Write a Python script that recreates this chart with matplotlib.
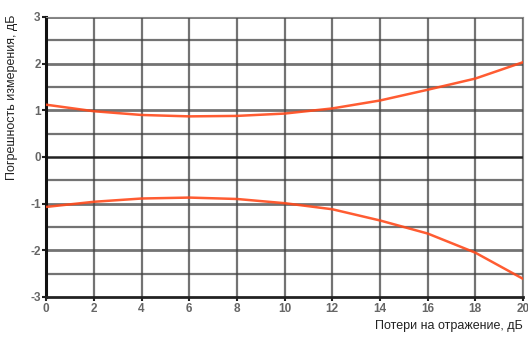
import matplotlib.pyplot as plt
import numpy as np

loss_db = [0, 2, 4, 6, 8, 10, 12, 14, 16, 18, 20]
upper_err = [1.12, 0.98, 0.90, 0.87, 0.88, 0.93, 1.04, 1.21, 1.44, 1.68, 2.03]
lower_err = [-1.07, -0.96, -0.89, -0.87, -0.90, -0.99, -1.12, -1.36, -1.64, -2.05, -2.61]
x_ticks = [0, 2, 4, 6, 8, 10, 12, 14, 16, 18, 20]
y_ticks = [-3, -2, -1, 0, 1, 2, 3]

plt.rcParams['font.family'] = ['Liberation Sans Narrow', 'Liberation Sans', 'DejaVu Sans']
plt.rcParams['axes.unicode_minus'] = False

fig = plt.figure(figsize=(5.28, 3.37), dpi=100)
ax = fig.add_axes([0.0875, 0.1187, 0.903, 0.831])

# сетка: вертикальные через 2, горизонтальные через 0.5
for xv in x_ticks[1:]:
    ax.axvline(xv, color='#444444', lw=1.6, alpha=0.75, zorder=1)
for yv in np.arange(-2.5, 3.01, 0.5):
    if yv == 0:
        ax.axhline(yv, color='#222222', lw=1.8, zorder=1)
    else:
        ax.axhline(yv, color='#444444', lw=1.6 if yv % 1 else 2.0, alpha=0.75, zorder=1)

ax.plot(loss_db, upper_err, color='#ff4a1c', lw=1.8, alpha=0.9, zorder=3)
ax.plot(loss_db, lower_err, color='#ff4a1c', lw=1.8, alpha=0.9, zorder=3)

ax.set_xlim(0, 20)
ax.set_ylim(-3, 3)
ax.set_xticks(x_ticks)
ax.set_yticks(y_ticks)
ax.tick_params(length=3, width=1.5, color='#222222', labelsize=8.5,
               labelcolor='#666666', pad=1)
for lab in ax.get_xticklabels() + ax.get_yticklabels():
    lab.set_fontweight('bold')

ax.spines['left'].set_linewidth(2.2)
ax.spines['left'].set_color('#111111')
ax.spines['bottom'].set_linewidth(2.0)
ax.spines['bottom'].set_color('#222222')
ax.spines['top'].set_color('#888888')
ax.spines['right'].set_color('#888888')

fig.text(0.99, 0.032, 'Потери на отражение, дБ', ha='right', va='center',
         fontsize=9, color='#222222')
fig.text(0.022, 0.71, 'Погрешность измерения, дБ', rotation=90,
         ha='center', va='center', fontsize=9, color='#222222')

fig.savefig('out.png', dpi=100)
